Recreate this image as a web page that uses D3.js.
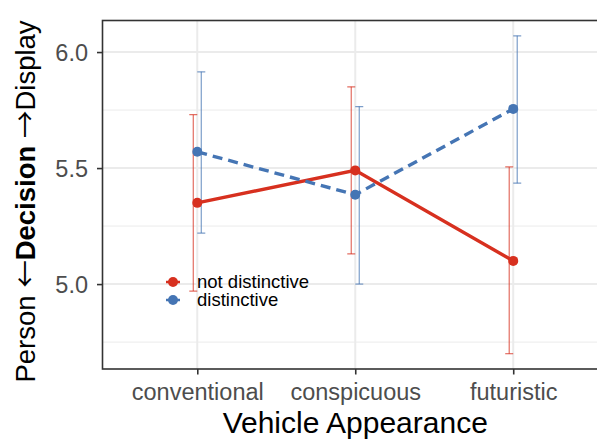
<!DOCTYPE html>
<html>
<head>
<meta charset="utf-8">
<script src="https://cdn.jsdelivr.net/npm/d3@7/dist/d3.min.js"></script>
<style>
  html, body { margin: 0; padding: 0; background: #fff; }
  svg { display: block; font-family: "Liberation Sans", Arial, sans-serif; }
</style>
</head>
<body>
<svg id="chart" width="597" height="442"></svg>
<script>
// Vehicle appearance categories and group means with confidence bounds
const categories = ["conventional", "conspicuous", "futuristic"];
const groups = ["not distinctive", "distinctive"];
const notDistinctiveMean = [5.35, 5.49, 5.10];
const notDistinctiveLow  = [4.97, 5.13, 4.70];
const notDistinctiveHigh = [5.73, 5.85, 5.505];
const distinctiveMean = [5.57, 5.385, 5.755];
const distinctiveLow  = [5.22, 5.00, 5.435];
const distinctiveHigh = [5.915, 5.765, 6.07];
const yTicks = [5.0, 5.5, 6.0];
const yMinor = [4.75, 5.25, 5.75];

const colors = { "not distinctive": "#d7301f", "distinctive": "#4575b4" };

const series = [
  { name: groups[0], mean: notDistinctiveMean, lo: notDistinctiveLow, hi: notDistinctiveHigh, dash: null, offset: -4 },
  { name: groups[1], mean: distinctiveMean, lo: distinctiveLow, hi: distinctiveHigh, dash: "10,6", offset: 4 }
];

const svg = d3.select("#chart");
const panel = { left: 102.5, top: 20.5, right: 608, bottom: 369 };

const x = d3.scalePoint().domain(categories)
  .range([panel.left, panel.right]).padding(0.6);
const y = d3.scaleLinear().domain([4.634, 6.136]).range([panel.bottom, panel.top]);

svg.append("defs").append("clipPath").attr("id", "panel-clip")
  .append("rect").attr("x", panel.left).attr("y", panel.top)
  .attr("width", panel.right - panel.left).attr("height", panel.bottom - panel.top);

const g = svg.append("g").attr("clip-path", "url(#panel-clip)");

// grid
g.selectAll(".minor").data(yMinor).join("line")
  .attr("x1", panel.left).attr("x2", panel.right)
  .attr("y1", d => y(d)).attr("y2", d => y(d))
  .attr("stroke", "#ebebeb").attr("stroke-width", 1);
g.selectAll(".majorY").data(yTicks).join("line")
  .attr("x1", panel.left).attr("x2", panel.right)
  .attr("y1", d => y(d)).attr("y2", d => y(d))
  .attr("stroke", "#ebebeb").attr("stroke-width", 2);
g.selectAll(".majorX").data(categories).join("line")
  .attr("x1", d => x(d)).attr("x2", d => x(d))
  .attr("y1", panel.top).attr("y2", panel.bottom)
  .attr("stroke", "#ebebeb").attr("stroke-width", 2);

// error bars
series.forEach(s => {
  const eb = g.append("g").attr("stroke", colors[s.name]).attr("stroke-opacity", 0.7).attr("stroke-width", 1.2);
  categories.forEach((c, i) => {
    const cx = x(c) + s.offset;
    eb.append("line").attr("x1", cx).attr("x2", cx).attr("y1", y(s.lo[i])).attr("y2", y(s.hi[i]));
    eb.append("line").attr("x1", cx - 4).attr("x2", cx + 4).attr("y1", y(s.lo[i])).attr("y2", y(s.lo[i]));
    eb.append("line").attr("x1", cx - 4).attr("x2", cx + 4).attr("y1", y(s.hi[i])).attr("y2", y(s.hi[i]));
  });
});

// lines and points
const line = d3.line().x((d, i) => x(categories[i])).y(d => y(d));
series.forEach(s => {
  g.append("path").datum(s.mean).attr("d", line)
    .attr("fill", "none").attr("stroke", colors[s.name]).attr("stroke-width", 3.4)
    .attr("stroke-dasharray", s.dash);
});
series.forEach(s => {
  g.selectAll(null).data(s.mean).join("circle")
    .attr("cx", (d, i) => x(categories[i])).attr("cy", d => y(d)).attr("r", 5)
    .attr("fill", colors[s.name]);
});

// panel border
svg.append("rect").attr("x", panel.left).attr("y", panel.top)
  .attr("width", panel.right - panel.left).attr("height", panel.bottom - panel.top)
  .attr("fill", "none").attr("stroke", "#333").attr("stroke-width", 1.6);

// axes
const yAxis = svg.append("g").attr("transform", `translate(${panel.left},0)`)
  .call(d3.axisLeft(y).tickValues(yTicks).tickFormat(d3.format(".1f")).tickSize(5.5).tickPadding(9));
const xAxis = svg.append("g").attr("transform", `translate(0,${panel.bottom})`)
  .call(d3.axisBottom(x).tickSize(5.5).tickPadding(9));
[yAxis, xAxis].forEach(a => {
  a.select(".domain").remove();
  a.selectAll(".tick line").attr("stroke", "#333").attr("stroke-width", 1.6);
  a.selectAll(".tick text").attr("fill", "#4d4d4d").style("font-size", "23.5px")
    .style("font-family", "'Liberation Sans', Arial, sans-serif");
});
yAxis.selectAll(".tick text").attr("dy", "0.36em");
xAxis.selectAll(".tick text").attr("dy", "0.72em");

// axis titles
svg.append("text").attr("x", x(categories[1])).attr("y", 433)
  .attr("text-anchor", "middle").style("font-size", "30px").attr("fill", "#000")
  .text("Vehicle Appearance");

const arrowFont = "'Noto Sans CJK SC', 'DejaVu Sans', sans-serif";
const yt = svg.append("text").attr("transform", "translate(35,201.5) rotate(-90)")
  .attr("text-anchor", "middle").style("font-size", "27.5px").attr("fill", "#000");
yt.append("tspan").text("Person ");
yt.append("tspan").style("font-family", arrowFont).text("\u2190");
yt.append("tspan").attr("font-weight", "bold").text("Decision");
yt.append("tspan").text(" ");
yt.append("tspan").style("font-family", arrowFont).text("\u2192");
yt.append("tspan").text("Display");

// legend
const legend = svg.append("g").attr("transform", "translate(173,282)");
groups.forEach((name, i) => {
  const row = legend.append("g").attr("transform", `translate(0,${i * 18})`);
  row.append("line").attr("x1", -7).attr("x2", 7).attr("y1", 0).attr("y2", 0)
    .attr("stroke", colors[name]).attr("stroke-width", 2.5);
  row.append("circle").attr("r", 5).attr("fill", colors[name]);
  row.append("text").attr("x", 24).attr("y", 0).attr("dy", "0.33em")
    .style("font-size", "18.5px").attr("fill", "#000").text(name);
});
</script>
</body>
</html>
